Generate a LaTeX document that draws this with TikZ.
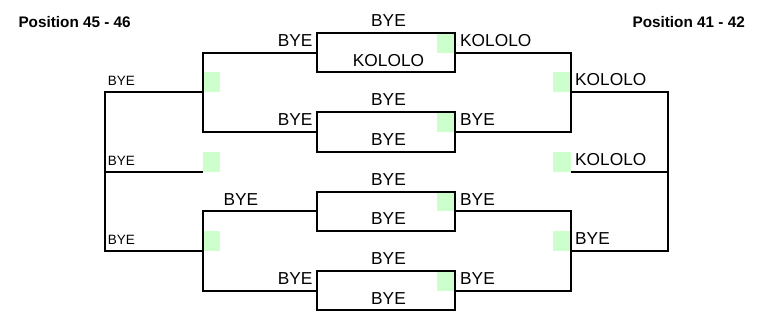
\documentclass[tikz,border=0pt]{standalone}
\usepackage{fontspec}
\setmainfont{Liberation Sans}
\usetikzlibrary{backgrounds}
\definecolor{winfill}{RGB}{204,255,204}
\begin{document}
\begin{tikzpicture}[x=1pt,y=-1pt,
  conn/.style={line width=2pt},
  matchbox/.style={draw,line width=2pt,minimum width=138.6pt,minimum height=39.3pt,inner sep=0pt,outer sep=0pt},
  big/.style={font=\fontsize{17.3}{20}\selectfont,inner sep=0pt},
  small/.style={font=\fontsize{13.5}{16}\selectfont,inner sep=0pt},
  ttl/.style={font=\fontsize{15.3}{18}\selectfont\bfseries,inner sep=0pt},
  win/.style={fill=winfill,draw=none,inner sep=0pt,outer sep=0pt,minimum width=17.5pt,minimum height=20pt},
  winbox/.style={fill=winfill,draw=none,inner sep=0pt,outer sep=0pt,minimum width=18pt,minimum height=19.65pt}]
\useasboundingbox (0,0) rectangle (765,320);

% titles
\node[ttl,anchor=base west] (titleL) at (18.3,27.5) {Position 45 - 46};
\node[ttl,anchor=base east] (titleR) at (745,27.5) {Position 41 - 42};

% first-round match boxes
\node[matchbox] (b0) at (386,52.85) {};
\node[matchbox] (b1) at (386,132.15) {};
\node[matchbox] (b2) at (386,211.45) {};
\node[matchbox] (b3) at (386,290.75) {};

% bracket joints
\coordinate (la) at (202.7,92.5);
\coordinate (lb) at (202.7,251.1);
\coordinate (lc) at (202.7,171.8);
\coordinate (lo) at (105,171.8);
\coordinate (ra) at (570.7,92.5);
\coordinate (rb) at (570.7,251.1);
\coordinate (rc) at (570.7,171.8);
\coordinate (ro) at (668,171.8);

% winner markers (under the lines)
\begin{scope}[on background layer]
  \node[winbox,anchor=north east] (g0) at (b0.north east) {};
  \node[winbox,anchor=north east] (g1) at (b1.north east) {};
  \node[winbox,anchor=north east] (g2) at (b2.north east) {};
  \node[winbox,anchor=north east] (g3) at (b3.north east) {};
  \node[win,anchor=south west] (gla) at (la) {};
  \node[win,anchor=south west] (glc) at (lc) {};
  \node[win,anchor=south west] (glb) at (lb) {};
  \node[win,anchor=south east] (gra) at (ra) {};
  \node[win,anchor=south east] (grc) at (rc) {};
  \node[win,anchor=south east] (grb) at (rb) {};
\end{scope}

% connectors, left side
\draw[conn] (b0.west) -| (la) |- (b1.west);
\draw[conn] (b2.west) -| (lb) |- (b3.west);
\draw[conn] (la) -| (lo) |- (lb);
\draw[conn] (lo) -- (lc);
% connectors, right side
\draw[conn] (b0.east) -| (ra) |- (b1.east);
\draw[conn] (b2.east) -| (rb) |- (b3.east);
\draw[conn] (ra) -| (ro) |- (rb);
\draw[conn] (ro) -- (rc);

% labels above / inside boxes
\node[big,anchor=base] (t0) at (388.5,26.7) {BYE};
\node[big,anchor=base] (t1) at (388.5,106.0) {BYE};
\node[big,anchor=base] (t2) at (388.5,185.3) {BYE};
\node[big,anchor=base] (t3) at (388.5,264.6) {BYE};
\node[big,anchor=base] (u0) at (388.5,66.2) {KOLOLO};
\node[big,anchor=base] (u1) at (388.5,145.5) {BYE};
\node[big,anchor=base] (u2) at (388.5,224.8) {BYE};
\node[big,anchor=base] (u3) at (388.5,304.1) {BYE};

% labels left of boxes
\node[big,anchor=base east] (w0) at (312.7,46.5) {BYE};
\node[big,anchor=base east] (w1) at (312.7,125.8) {BYE};
\node[big,anchor=base west] (w2) at (223.3,205.1) {BYE};
\node[big,anchor=base east] (w3) at (312.7,284.4) {BYE};

% labels right of boxes
\node[big,anchor=base west] (e0) at (460,46.5) {KOLOLO};
\node[big,anchor=base west] (e1) at (460,125.8) {BYE};
\node[big,anchor=base west] (e2) at (460,205.1) {BYE};
\node[big,anchor=base west] (e3) at (460,284.4) {BYE};

% second round labels
\node[small,anchor=base west] (sl0) at (107.7,86.0) {BYE};
\node[small,anchor=base west] (sl1) at (107.7,165.3) {BYE};
\node[small,anchor=base west] (sl2) at (107.7,244.6) {BYE};
\node[big,anchor=base west] (sr0) at (575,86.0) {KOLOLO};
\node[big,anchor=base west] (sr1) at (575,165.3) {KOLOLO};
\node[big,anchor=base west] (sr2) at (575,244.6) {BYE};
\end{tikzpicture}
\end{document}
